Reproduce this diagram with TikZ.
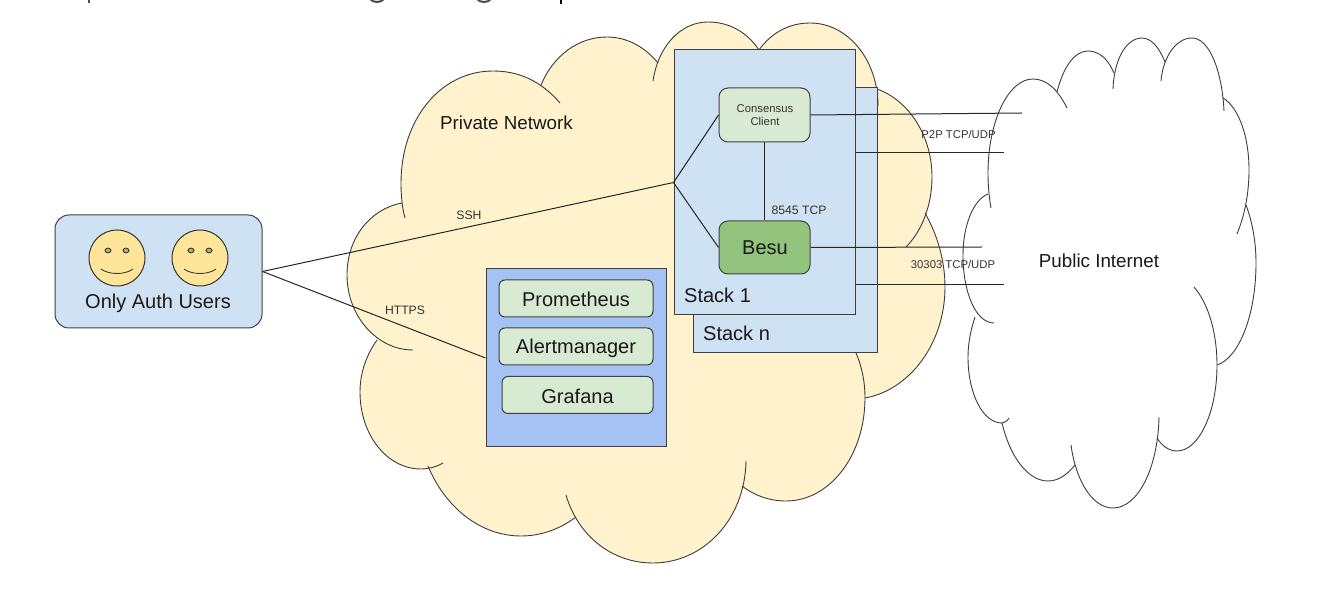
\documentclass[tikz,border=0pt]{standalone}
\usepackage{fontspec}
\setmainfont{Liberation Sans}
\usepackage{xcolor}
\definecolor{cloudyellow}{HTML}{FFF2CC}
\definecolor{stackblue}{HTML}{CFE2F3}
\definecolor{monitorblue}{HTML}{A4C2F4}
\definecolor{paleleaf}{HTML}{D9EAD3}
\definecolor{besuleaf}{HTML}{93C47D}
\definecolor{facegold}{HTML}{FFE599}
\definecolor{inkgrey}{HTML}{3C3C3C}

\newcommand{\filllobe}[1]{\fill[cloudyellow] #1;}
\newcommand{\drawlobe}[1]{\draw[cloudline] #1;}
\newcommand{\privatelobes}[1]{%
  #1{(560,103) .. controls (540,80) and (518,71) .. (493,71) .. controls (440,71) and (401,120) .. (401,183) .. controls (401,195) and (402,207) .. (405,218)}
  #1{(402,203) .. controls (370,209) and (347,238) .. (347,275) .. controls (347,316) and (377,350) .. (413,350)}
  #1{(377,340) .. controls (367,354) and (360,372) .. (360,392) .. controls (360,435) and (387,469) .. (421,469) .. controls (429,469) and (436,467) .. (443,463)}
  #1{(428,466) .. controls (445,507) and (480,536) .. (521,536) .. controls (541,536) and (560,529) .. (576,517)}
  #1{(566,495) .. controls (578,536) and (612,563) .. (653,563) .. controls (703,563) and (745,520) .. (746,461)}
  #1{(742,486) .. controls (755,496) and (770,501) .. (786,501) .. controls (830,501) and (865,455) .. (865,398) .. controls (865,382) and (862,367) .. (856,353)}
  #1{(865,398) .. controls (910,390) and (945,343) .. (945,287) .. controls (945,260) and (937,234) .. (925,213)}
  #1{(906,247) .. controls (922,231) and (932,205) .. (932,177) .. controls (932,135) and (908,100) .. (877,89)}
  #1{(878,106) .. controls (878,60) and (848,23) .. (810,23) .. controls (789,23) and (771,33) .. (759,50)}
  #1{(759,50) .. controls (747,32) and (729,22) .. (708,22) .. controls (680,22) and (658,47) .. (653,81)}
  #1{(658,63) .. controls (645,47) and (627,37) .. (607,37) .. controls (578,37) and (553,56) .. (541,85)}
}
\newcommand{\publiclobes}[1]{%
  #1{(1067,108) .. controls (1058,90) and (1047,79) .. (1033,79) .. controls (1008,79) and (988,122) .. (988,173) .. controls (988,185) and (989,197) .. (991,208)}
  #1{(988,194) .. controls (973,200) and (963,226) .. (963,255) .. controls (963,293) and (976,323) .. (994,323)}
  #1{(975,317) .. controls (971,329) and (968,343) .. (968,357) .. controls (968,394) and (983,423) .. (1002,423) .. controls (1005,423) and (1007,421) .. (1009,418)}
  #1{(1002,423) .. controls (1010,457) and (1028,481) .. (1048,481) .. controls (1058,481) and (1067,475) .. (1075,465)}
  #1{(1071,445) .. controls (1076,482) and (1093,508) .. (1113,508) .. controls (1138,508) and (1158,468) .. (1159,417)}
  #1{(1157,438) .. controls (1162,446) and (1169,451) .. (1177,451) .. controls (1199,451) and (1217,412) .. (1217,365) .. controls (1217,332) and (1208,303) .. (1194,287)}
  #1{(1217,365) .. controls (1239,358) and (1256,315) .. (1256,263) .. controls (1256,241) and (1252,221) .. (1246,205)}
  #1{(1237,234) .. controls (1244,217) and (1249,195) .. (1249,170) .. controls (1249,135) and (1238,107) .. (1223,98)}
  #1{(1224,111) .. controls (1222,70) and (1209,38) .. (1192,38) .. controls (1176,38) and (1163,57) .. (1161,81)}
  #1{(1165,62) .. controls (1159,47) and (1151,38) .. (1142,38) .. controls (1126,38) and (1114,60) .. (1113,89)}
  #1{(1114,73) .. controls (1108,59) and (1099,51) .. (1088,51) .. controls (1074,51) and (1063,68) .. (1057,92)}
}

\begin{document}
\begin{tikzpicture}[x=1pt, y=-1pt,
  cloudline/.style={draw=inkgrey, line width=0.9pt},
  wire/.style={draw=black!85, line width=1pt},
  stackbox/.style={draw=black!75, line width=1pt, inner sep=0pt},
  softbox/.style={stackbox, rounded corners=#1, fill=paleleaf},
  face/.style={circle, draw=black!80, line width=1pt, fill=facegold, minimum size=56pt, inner sep=0pt},
  eye/.style={draw=black!80, line width=0.9pt, fill=facegold!75!black},
  clipped/.style={draw=black!70, line width=2pt},
  big/.style={text=black!90, font=\fontsize{20}{24}\selectfont},
  small/.style={text=black!80, font=\fontsize{12.2}{14}\selectfont},
  tiny/.style={text=black!80, font=\fontsize{11.3}{13.5}\selectfont, align=center}]
  \useasboundingbox (0,0) rectangle (1334,593);

  \fill[cloudyellow] (402,203) -- (377,340) -- (428,466) -- (576,517) -- (742,486) -- (865,398) -- (925,213) -- (877,89) -- (759,50) -- (658,63) -- (541,85) -- cycle;
  \privatelobes{\filllobe}
  \privatelobes{\drawlobe}
  \publiclobes{\drawlobe}

  \node[stackbox, fill=stackblue, minimum width=184pt, minimum height=265pt] (stackn) at (785,220.5) {};
  \node[stackbox, fill=stackblue, minimum width=181pt, minimum height=265pt] (stackone) at (764.5,182.5) {};
  \node[stackbox, fill=monitorblue, minimum width=180pt, minimum height=178pt] (monitor) at (576,358) {};

  \node[softbox=9pt, minimum width=91pt, minimum height=54pt] (consensus) at (764.5,115) {};
  \node[softbox=9pt, fill=besuleaf, minimum width=91pt, minimum height=53pt] (besu) at (764.5,247.5) {};
  \node[softbox=6pt, minimum width=154pt, minimum height=37pt] (prometheus) at (576,298.5) {};
  \node[softbox=6pt, minimum width=154pt, minimum height=37pt] (alertmanager) at (576,346.5) {};
  \node[softbox=6pt, minimum width=151pt, minimum height=37pt] (grafana) at (577.5,395) {};

  \node[stackbox, rounded corners=14pt, fill=stackblue, minimum width=207pt, minimum height=113pt] (users) at (158.5,271.5) {};
  \foreach \name/\xc in {faceone/117, facetwo/200} {
    \node[face] (\name) at (\xc,258) {};
    \draw[eye] ([shift={(-9,-7.5)}]\name.center) ellipse (3pt and 2.4pt);
    \draw[eye] ([shift={(9,-7.5)}]\name.center) ellipse (3pt and 2.4pt);
    \draw[cloudline] ([shift={(-16,11)}]\name.center) .. controls +(8,6) and +(-8,6) .. ([shift={(16,11)}]\name.center);
  }

  \coordinate (p2pend) at (1022,113);
  \coordinate (p2pstack) at (1004,153);
  \coordinate (tcpend) at (982,247);
  \coordinate (tcpstack) at (1004,285);

  \draw[wire] (users.east) -- (stackone.west);
  \draw[wire] (users.east) -- (monitor.west);
  \draw[wire] (stackone.west) -- (consensus.west);
  \draw[wire] (stackone.west) -- (besu.west);
  \draw[wire] (consensus.south) -- (besu.north);
  \draw[wire] (consensus.east) -- (p2pend);
  \draw[wire] (stackone.east |- p2pstack) -- (p2pstack);
  \draw[wire] (besu.east) -- (tcpend);
  \draw[wire] (stackone.east |- tcpstack) -- (tcpstack);

  \draw[clipped] (89,0) -- (89,3);
  \draw[clipped] (370,-1) .. controls (373,3) and (381,3) .. (384,-1);
  \draw[clipped] (477,-1) .. controls (480,3) and (488,3) .. (491,-1);
  \draw[clipped, draw=black] (561,0) -- (561,4);

  \node[big] (userslabel) at (158,303.5) {Only Auth Users};
  \node[big, font=\fontsize{18.8}{23}\selectfont] (privatelabel) at (506.5,122.5) {Private Network};
  \node[big, font=\fontsize{18.8}{23}\selectfont] (publiclabel) at (1099,261) {Public Internet};
  \node[big, anchor=west, inner sep=0pt] (stackonelabel) at (684,295) {Stack 1};
  \node[big, anchor=west, inner sep=0pt] (stacknlabel) at (703,333) {Stack n};
  \node[big] (besulabel) at (765,248) {Besu};
  \node[big] (promlabel) at (576,299) {Prometheus};
  \node[big] (alertlabel) at (576,348) {Alertmanager};
  \node[big] (grafanalabel) at (577.5,396) {Grafana};
  \node[tiny] (consensuslabel) at (765,115) {Consensus\\Client};
  \node[small] (sshlabel) at (469,215) {SSH};
  \node[small] (httpslabel) at (405,310) {HTTPS};
  \node[small] (rpclabel) at (799,210) {8545 TCP};
  \node[tiny] (p2plabel) at (958.5,134) {P2P TCP/UDP};
  \node[tiny] (tcplabel) at (953,264) {30303 TCP/UDP};
\end{tikzpicture}
\end{document}
